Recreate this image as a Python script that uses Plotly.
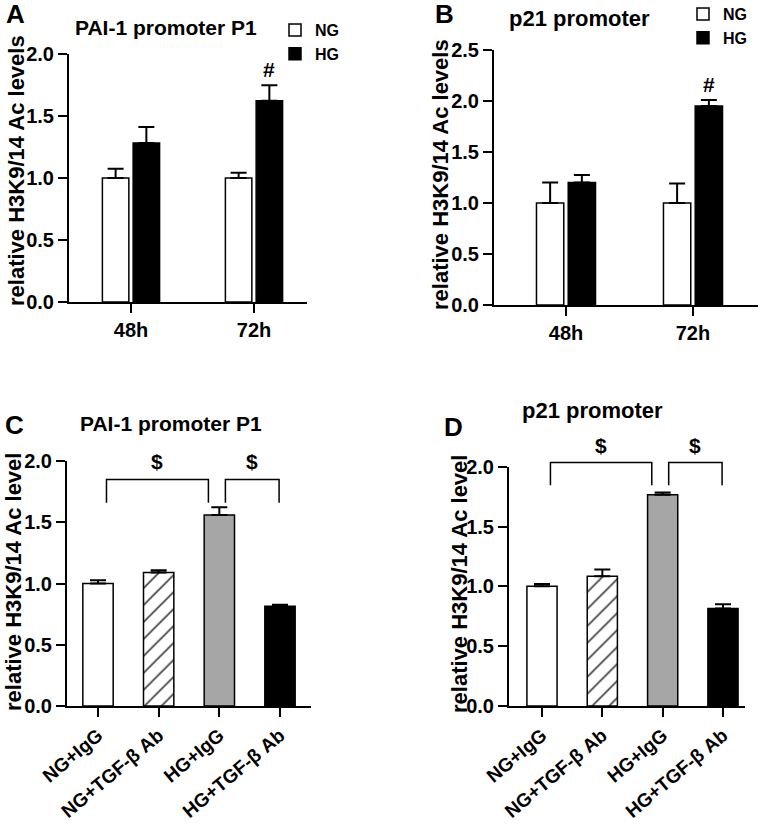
import plotly.graph_objects as go

W, H = 760, 825

# ---------------- data ----------------
time_points = ["48h", "72h"]
groups = ["NG", "HG"]

pai1_ng = [1.0, 1.0]
pai1_ng_err = [0.075, 0.043]
pai1_hg = [1.282, 1.623]
pai1_hg_err = [0.13, 0.124]

p21_ng = [1.0, 1.0]
p21_ng_err = [0.2, 0.19]
p21_hg = [1.2, 1.95]
p21_hg_err = [0.075, 0.06]

treatments = ["NG+IgG", "NG+TGF-β Ab", "HG+IgG", "HG+TGF-β Ab"]
pai1_trt = [1.0, 1.09, 1.56, 0.815]
pai1_trt_err = [0.026, 0.018, 0.062, 0.012]
p21_trt = [1.0, 1.085, 1.765, 0.815]
p21_trt_err = [0.02, 0.055, 0.02, 0.035]

# significance brackets: (from category index, to category index)
comparisons = [(0, 2), (2, 3)]
bracket_top_c = 1.85
bracket_top_d = 2.035

# ---------------- style ----------------
FONT = "Liberation Sans, Arial, sans-serif"
TRT_COLORS = ["white", "white", "#a6a6a6", "black"]
TRT_PATTERNS = ["", "/", "", ""]
BARGAP = 0.5


def xdom(l, r):
    return [l / W, r / W]


def ydom(t, b):
    return [1 - b / H, 1 - t / H]


def axis_common():
    return dict(
        showline=True, linewidth=2, linecolor="black", automargin=False,
        ticks="outside", ticklen=9, tickwidth=2, tickcolor="black",
        showgrid=False, zeroline=False, fixedrange=True,
        tickfont=dict(family=FONT, size=20, color="black", weight="bold"),
    )


fig = go.Figure()

err_style = dict(type="data", symmetric=False, thickness=2, width=8, color="black")

# Panel A
fig.add_trace(go.Bar(
    x=time_points, y=pai1_ng, name=groups[0], xaxis="x", yaxis="y", legend="legend",
    marker=dict(color="white", line=dict(color="black", width=1.5)),
    error_y=dict(array=pai1_ng_err, arrayminus=[0] * 2, **err_style)))
fig.add_trace(go.Bar(
    x=time_points, y=pai1_hg, name=groups[1], xaxis="x", yaxis="y", legend="legend",
    marker=dict(color="black", line=dict(color="black", width=1.5)),
    error_y=dict(array=pai1_hg_err, arrayminus=[0] * 2, **err_style)))

# Panel B
fig.add_trace(go.Bar(
    x=time_points, y=p21_ng, name=groups[0], xaxis="x2", yaxis="y2", legend="legend2",
    marker=dict(color="white", line=dict(color="black", width=1.5)),
    error_y=dict(array=p21_ng_err, arrayminus=[0] * 2, **err_style)))
fig.add_trace(go.Bar(
    x=time_points, y=p21_hg, name=groups[1], xaxis="x2", yaxis="y2", legend="legend2",
    marker=dict(color="black", line=dict(color="black", width=1.5)),
    error_y=dict(array=p21_hg_err, arrayminus=[0] * 2, **err_style)))

# Panels C, D
for vals, errs, xa, ya in [(pai1_trt, pai1_trt_err, "x3", "y3"), (p21_trt, p21_trt_err, "x4", "y4")]:
    fig.add_trace(go.Bar(
        x=treatments, y=vals, xaxis=xa, yaxis=ya, showlegend=False, width=0.5,
        marker=dict(color=TRT_COLORS, line=dict(color="black", width=1.5),
                    pattern=dict(shape=TRT_PATTERNS, fgcolor="black", fgopacity=1,
                                 fillmode="overlay", size=12, solidity=0.14)),
        error_y=dict(array=errs, arrayminus=[0] * 4, **err_style)))

layout = dict(
    template="none",
    width=W, height=H, margin=dict(l=0, r=0, t=0, b=0, autoexpand=False),
    paper_bgcolor="white", plot_bgcolor="white",
    barmode="group", bargap=BARGAP, bargroupgap=0.14,
    hovermode=False,
    font=dict(family=FONT, color="black"),
)

layout["xaxis"] = dict(axis_common(), domain=xdom(69, 307), anchor="y", range=[-0.504, 1.431])
layout["yaxis"] = dict(axis_common(), domain=ydom(54, 302), anchor="x", range=[0, 2.0],
                       tickvals=[0, 0.5, 1.0, 1.5, 2.0], tickformat=".1f")
layout["xaxis2"] = dict(axis_common(), domain=xdom(494, 758), anchor="y2", range=[-0.567, 1.512])
layout["yaxis2"] = dict(axis_common(), domain=ydom(50, 305), anchor="x2", range=[0, 2.5],
                        tickvals=[0, 0.5, 1.0, 1.5, 2.0, 2.5], tickformat=".1f")
layout["xaxis3"] = dict(axis_common(), domain=xdom(67, 311), anchor="y3", range=[-0.511, 3.511],
                        tickangle=-40)
layout["yaxis3"] = dict(axis_common(), domain=ydom(461, 706), anchor="x3", range=[0, 2.0],
                        tickvals=[0, 0.5, 1.0, 1.5, 2.0], tickformat=".1f")
layout["xaxis4"] = dict(axis_common(), domain=xdom(509, 745), anchor="y4", range=[-0.547, 3.365],
                        tickangle=-40)
layout["yaxis4"] = dict(axis_common(), domain=ydom(466.7, 706), anchor="x4", range=[0, 2.0],
                        tickvals=[0, 0.5, 1.0, 1.5, 2.0], tickformat=".1f")
for ax in ["xaxis3", "xaxis4"]:
    layout[ax]["tickfont"] = dict(family=FONT, size=19, color="black", weight="bold")

legend_common = dict(
    xanchor="left", yanchor="top", bgcolor="rgba(0,0,0,0)", borderwidth=0,
    font=dict(family=FONT, size=16, color="black", weight="bold"),
    itemwidth=30, traceorder="normal", tracegroupgap=0,
)
layout["legend"] = dict(legend_common, x=275 / W, y=1 - 13 / H)
layout["legend2"] = dict(legend_common, x=683 / W, y=1 - (-3) / H)

fig.update_layout(**layout)


def ann(text, xpx, ypx, size, xanchor="center", angle=0):
    fig.add_annotation(text=text, x=xpx / W, y=1 - ypx / H,
                       xref="paper", yref="paper",
                       xanchor=xanchor, yanchor="middle", showarrow=False, textangle=angle,
                       font=dict(family=FONT, size=size, color="black", weight="bold"))


# panel letters
ann("A", 4, 14, 26, "left")
ann("B", 433, 14, 26, "left")
ann("C", 3, 425, 26, "left")
ann("D", 442, 427, 26, "left")

# titles
ann("PAI-1 promoter P1", 165.5, 28, 21)
ann("p21 promoter", 579, 18, 22)
ann("PAI-1 promoter P1", 171, 423, 21)
ann("p21 promoter", 592, 410, 22)

# y axis titles
ann("relative H3K9/14 Ac levels", 16, 171, 22, angle=-90)
ann("relative H3K9/14 Ac levels", 440, 175, 22, angle=-90)
ann("relative H3K9/14 Ac level", 13, 582, 22, angle=-90)
ann("relative H3K9/14 Ac level", 459, 584, 22, angle=-90)

# '#' marks above HG 72h bars
hg_offset = (1 - BARGAP) / 4
for vals, errs, xa, ya in [(pai1_hg, pai1_hg_err, "x", "y"), (p21_hg, p21_hg_err, "x2", "y2")]:
    fig.add_annotation(text="#", x=1 + hg_offset, y=vals[1] + errs[1], xref=xa, yref=ya,
                       xanchor="center", yanchor="bottom", yshift=2, showarrow=False,
                       font=dict(family=FONT, size=21, color="black", weight="bold"))

# brackets with '$'
insets = [(0.14, 0.18), (0.1, 0.015)]
for xa, ya, top, ymax in [("x3", "y3", bracket_top_c, 2.0), ("x4", "y4", bracket_top_d, 2.0)]:
    for (i, j), (li, ri) in zip(comparisons, insets):
        a, c = i + li, j - ri
        t = top / ymax
        b = (top - 0.19) / ymax
        fig.add_shape(type="path", xref=xa, yref=ya + " domain",
                      path=f"M {a},{b} L {a},{t} L {c},{t} L {c},{b}",
                      line=dict(color="black", width=1.5))
        fig.add_annotation(text="$", x=(a + c) / 2, y=t, xref=xa, yref=ya + " domain",
                           xanchor="center", yanchor="bottom", yshift=4, showarrow=False,
                           font=dict(family=FONT, size=21, color="black", weight="bold"))

# remove the browser's default 8px page margin so the figure fills the window
fig.write_html("out.html", config={"displayModeBar": False, "staticPlot": True},
               post_script="document.body.style.margin='0';")
